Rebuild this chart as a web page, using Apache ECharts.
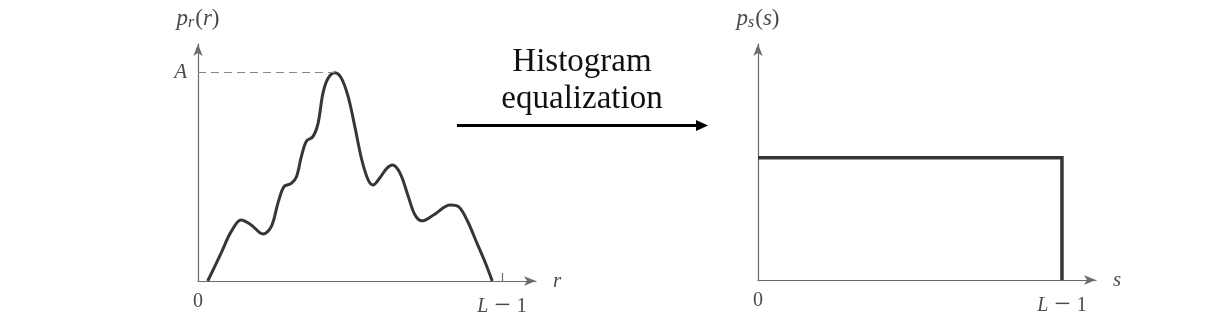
<!DOCTYPE html>
<html>
<head>
<meta charset="utf-8">
<script src="https://cdn.jsdelivr.net/npm/echarts@6/dist/echarts.min.js"></script>
<style>html,body{margin:0;padding:0;background:#fff}#c{width:1222px;height:322px}</style>
</head>
<body>
<div id="c"></div>
<script>
// r (0..100 = 0..L-1) and p_r(r) (100 = A)
const rValues = [3.2, 7.6, 10.9, 14.2, 17.5, 21.4, 24.1, 26.3, 28.3, 30.7, 32.4, 34.0, 35.7, 37.8, 39.5, 41.1, 42.8, 45.0, 47.2, 49.4, 51.6, 53.9, 56.0, 57.6, 59.9, 62.1, 64.0, 66.5, 69.2, 71.4, 73.7, 77.5, 83.0, 85.7, 88.5, 91.8, 94.6, 96.8];
const prValues = [0, 13.4, 23.7, 29.3, 26.9, 22.6, 26.1, 37.4, 45.3, 46.9, 50.1, 59.7, 67.2, 69.3, 75.7, 90.1, 97.3, 100, 97.3, 88.5, 74.1, 58.1, 48.5, 46.1, 49.7, 54.1, 55.7, 51.7, 40.5, 31.7, 28.9, 31.7, 36.5, 35.7, 29.3, 18.1, 8.5, 0];
// equalized histogram: uniform over s in [0, L-1]
const sValues = [0, 100, 100];
const psValues = [59, 59, 0];
const peakLevel = 100;   // A
const peakR = 45.0;
const xTickValues = [0, 100];
const xTickLabels = ['0', '{i|L} {m|−} 1'];
const yTickValues = [100];
const yTickLabels = ['{i|A}'];
const arrowText = 'Histogram\nequalization';

const serif = '"Liberation Serif", "DejaVu Serif", serif';
const axisColor = '#6f6b67';
const curveColor = '#3b3531';
const labelColor = '#4a4a4a';
const X_MAX = 111.2, Y_MAX = 113.8;

function xAxisOpt(idx, name, withTick) {
  return {
    type: 'value', gridIndex: idx, min: 0, max: X_MAX,
    splitLine: {show: false},
    axisLine: {show: true, symbol: ['none', 'arrow'], symbolSize: [7, 12], lineStyle: {color: axisColor, width: 1.2}},
    axisTick: {show: withTick, inside: true, length: 8, customValues: [100], lineStyle: {color: axisColor, width: 1.2}},
    axisLabel: {
      customValues: xTickValues, margin: 11,
      formatter: v => xTickLabels[xTickValues.indexOf(v)] || '',
      color: labelColor, fontFamily: serif, fontSize: 20,
      rich: {
        i: {fontStyle: 'italic', fontFamily: serif, fontSize: 20, color: labelColor},
        m: {fontFamily: serif, fontSize: 29, color: labelColor, padding: [0, 1, 0, 1]}
      }
    },
    name: '{i|' + name + '}', nameLocation: 'end', nameGap: 17,
    nameTextStyle: {rich: {i: {fontStyle: 'italic', fontFamily: serif, fontSize: 21, color: labelColor}}}
  };
}
function yAxisOpt(idx, sub, showA) {
  return {
    type: 'value', gridIndex: idx, min: 0, max: Y_MAX,
    splitLine: {show: false},
    axisLine: {show: true, symbol: ['none', 'arrow'], symbolSize: [7, 12], lineStyle: {color: axisColor, width: 1.2}},
    axisTick: {show: false},
    axisLabel: {
      show: showA, customValues: yTickValues, margin: 11,
      formatter: v => yTickLabels[yTickValues.indexOf(v)] || '',
      rich: {i: {fontStyle: 'italic', fontFamily: serif, fontSize: 21, color: labelColor}}
    },
    name: '{i|p}{s|' + sub + '}{n|(}{i|' + sub + '}{n|)}', nameLocation: 'end', nameGap: 13,
    nameTextStyle: {
      align: 'center',
      rich: {
        i: {fontStyle: 'italic', fontFamily: serif, fontSize: 23, color: labelColor},
        n: {fontFamily: serif, fontSize: 23, color: labelColor},
        s: {fontStyle: 'italic', fontFamily: serif, fontSize: 16, color: labelColor, padding: [9, 1, 0, 0]}
      }
    }
  };
}

const chart = echarts.init(document.getElementById('c'), null, {renderer: 'canvas'});
chart.setOption({
  backgroundColor: '#fff',
  animation: false,
  grid: [
    {left: 198, top: 44, width: 338, bottom: 41},
    {left: 758, top: 44, width: 338, bottom: 42}
  ],
  xAxis: [xAxisOpt(0, 'r', true), xAxisOpt(1, 's', false)],
  yAxis: [yAxisOpt(0, 'r', true), yAxisOpt(1, 's', false)],
  series: [
    {
      type: 'line', xAxisIndex: 0, yAxisIndex: 0,
      data: rValues.map((r, i) => [r, prValues[i]]),
      smooth: 0.35, symbol: 'none',
      lineStyle: {color: curveColor, width: 3},
      markLine: {
        silent: true, symbol: 'none', label: {show: false},
        lineStyle: {type: [8, 5], color: '#8a8682', width: 1.2},
        data: [[{coord: [0, peakLevel]}, {coord: [peakR, peakLevel]}]]
      }
    },
    {
      type: 'line', xAxisIndex: 1, yAxisIndex: 1,
      data: sValues.map((s, i) => [s, psValues[i]]),
      symbol: 'none',
      lineStyle: {color: curveColor, width: 3.5, join: 'miter'}
    }
  ],
  graphic: [
    {
      type: 'text', x: 582, y: 44,
      style: {text: arrowText, align: 'center', verticalAlign: 'top', font: '33px ' + serif, fill: '#111', lineHeight: 37}
    },
    {type: 'line', shape: {x1: 457, y1: 125.5, x2: 698, y2: 125.5}, style: {stroke: '#000', lineWidth: 3}},
    {type: 'polygon', shape: {points: [[696, 120], [708, 125.5], [696, 131]]}, style: {fill: '#000'}}
  ]
});
</script>
</body>
</html>
